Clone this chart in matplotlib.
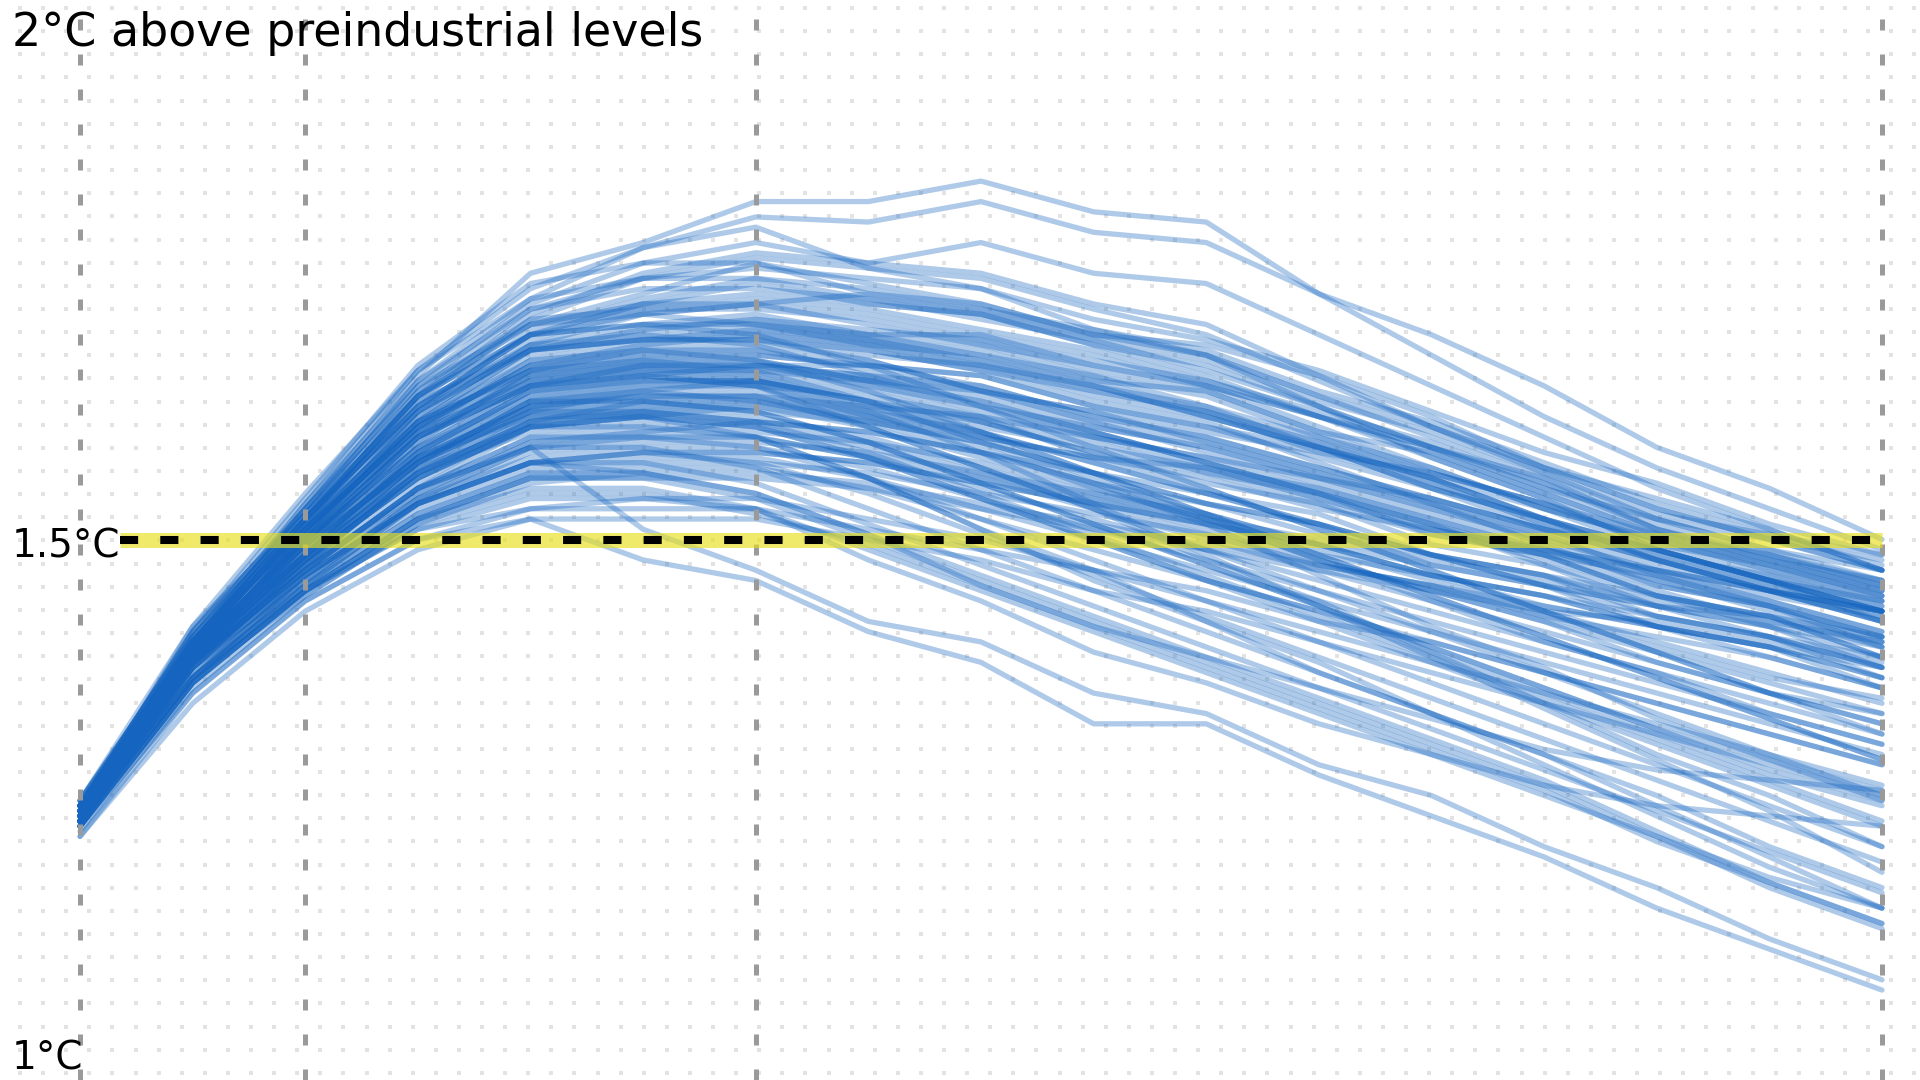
import numpy as np
import matplotlib
matplotlib.use("Agg")
import matplotlib.pyplot as plt

# sample years of every pathway (5-year steps)
years = [2020, 2025, 2030, 2035, 2040, 2045, 2050, 2055, 2060,
         2065, 2070, 2075, 2080, 2085, 2090, 2095, 2100]

# warming above preindustrial levels (°C), one row per scenario pathway
upper_paths = [
    [1.24, 1.40, 1.53, 1.66, 1.76, 1.79, 1.83, 1.83, 1.85, 1.82, 1.81, 1.74, 1.70, 1.65, 1.59, 1.55, 1.50],
    [1.245, 1.405, 1.525, 1.655, 1.735, 1.785, 1.815, 1.81, 1.83, 1.80, 1.79, 1.74, 1.68, 1.62, 1.57, 1.53, 1.49],
    [1.23, 1.39, 1.52, 1.64, 1.72, 1.76, 1.78, 1.77, 1.79, 1.76, 1.75, 1.70, 1.65, 1.60, 1.55, 1.51, 1.47],
    [1.235, 1.395, 1.535, 1.665, 1.745, 1.785, 1.805, 1.765, 1.745, 1.705, 1.68, 1.63, 1.58, 1.54, 1.49, 1.46, 1.42],
    [1.24, 1.41, 1.53, 1.65, 1.73, 1.77, 1.79, 1.77, 1.76, 1.73, 1.71, 1.66, 1.62, 1.57, 1.53, 1.50, 1.47],
    [1.225, 1.395, 1.515, 1.635, 1.715, 1.755, 1.775, 1.765, 1.755, 1.725, 1.70, 1.655, 1.61, 1.565, 1.52, 1.49, 1.46],
    [1.24, 1.40, 1.52, 1.64, 1.71, 1.74, 1.77, 1.75, 1.73, 1.70, 1.68, 1.64, 1.60, 1.56, 1.51, 1.48, 1.45],
    [1.235, 1.385, 1.505, 1.625, 1.705, 1.735, 1.755, 1.745, 1.725, 1.695, 1.665, 1.63, 1.59, 1.555, 1.51, 1.485, 1.46],
    [1.24, 1.40, 1.52, 1.63, 1.70, 1.73, 1.75, 1.73, 1.72, 1.69, 1.66, 1.62, 1.58, 1.54, 1.50, 1.47, 1.44],
    [1.235, 1.395, 1.515, 1.625, 1.695, 1.725, 1.735, 1.725, 1.705, 1.685, 1.655, 1.62, 1.585, 1.545, 1.505, 1.475, 1.455],
    [1.24, 1.40, 1.51, 1.62, 1.69, 1.72, 1.73, 1.72, 1.70, 1.67, 1.65, 1.61, 1.57, 1.53, 1.49, 1.46, 1.43],
    [1.225, 1.385, 1.505, 1.615, 1.685, 1.705, 1.715, 1.705, 1.695, 1.665, 1.645, 1.605, 1.565, 1.535, 1.495, 1.465, 1.435],
    [1.24, 1.41, 1.54, 1.67, 1.75, 1.77, 1.77, 1.74, 1.72, 1.69, 1.67, 1.63, 1.59, 1.55, 1.51, 1.48, 1.45],
    [1.245, 1.405, 1.535, 1.655, 1.725, 1.755, 1.765, 1.755, 1.745, 1.715, 1.695, 1.665, 1.625, 1.585, 1.555, 1.515, 1.485],
    [1.23, 1.40, 1.52, 1.63, 1.70, 1.73, 1.74, 1.73, 1.72, 1.70, 1.68, 1.64, 1.61, 1.57, 1.53, 1.50, 1.48],
    [1.235, 1.415, 1.545, 1.665, 1.735, 1.755, 1.755, 1.735, 1.725, 1.705, 1.685, 1.645, 1.615, 1.575, 1.535, 1.505, 1.475],
    [1.23, 1.40, 1.53, 1.65, 1.71, 1.72, 1.73, 1.74, 1.73, 1.70, 1.69, 1.66, 1.61, 1.57, 1.54, 1.51, 1.47],
    [1.245, 1.395, 1.515, 1.645, 1.715, 1.725, 1.725, 1.715, 1.695, 1.675, 1.655, 1.625, 1.595, 1.555, 1.515, 1.485, 1.455],
    [1.23, 1.40, 1.52, 1.63, 1.70, 1.71, 1.71, 1.70, 1.70, 1.68, 1.65, 1.62, 1.59, 1.56, 1.52, 1.50, 1.47],
    [1.245, 1.415, 1.525, 1.625, 1.685, 1.705, 1.715, 1.695, 1.675, 1.645, 1.625, 1.595, 1.565, 1.535, 1.505, 1.475, 1.445],
    [1.23, 1.40, 1.52, 1.64, 1.71, 1.73, 1.73, 1.71, 1.69, 1.67, 1.65, 1.62, 1.59, 1.55, 1.52, 1.49, 1.47],
    [1.235, 1.405, 1.525, 1.645, 1.725, 1.745, 1.745, 1.735, 1.715, 1.695, 1.675, 1.635, 1.605, 1.565, 1.525, 1.505, 1.485],
]

core_paths = [
    [1.24, 1.40, 1.51, 1.61, 1.68, 1.70, 1.71, 1.70, 1.69, 1.66, 1.64, 1.60, 1.56, 1.52, 1.49, 1.46, 1.43],
    [1.235, 1.385, 1.505, 1.605, 1.675, 1.695, 1.705, 1.695, 1.675, 1.655, 1.625, 1.595, 1.555, 1.515, 1.485, 1.455, 1.425],
    [1.24, 1.40, 1.51, 1.61, 1.67, 1.69, 1.70, 1.69, 1.67, 1.65, 1.62, 1.59, 1.56, 1.52, 1.49, 1.46, 1.44],
    [1.225, 1.395, 1.495, 1.595, 1.665, 1.685, 1.695, 1.685, 1.665, 1.635, 1.615, 1.575, 1.535, 1.505, 1.465, 1.435, 1.405],
    [1.24, 1.40, 1.50, 1.60, 1.66, 1.68, 1.69, 1.68, 1.67, 1.64, 1.62, 1.59, 1.55, 1.52, 1.48, 1.46, 1.43],
    [1.235, 1.385, 1.495, 1.605, 1.655, 1.675, 1.685, 1.675, 1.645, 1.625, 1.595, 1.565, 1.535, 1.495, 1.465, 1.435, 1.405],
    [1.24, 1.39, 1.50, 1.59, 1.65, 1.67, 1.68, 1.67, 1.66, 1.63, 1.61, 1.58, 1.55, 1.51, 1.48, 1.45, 1.42],
    [1.235, 1.395, 1.485, 1.585, 1.645, 1.665, 1.675, 1.655, 1.645, 1.615, 1.585, 1.555, 1.525, 1.495, 1.455, 1.435, 1.395],
    [1.24, 1.40, 1.50, 1.59, 1.65, 1.66, 1.67, 1.66, 1.65, 1.62, 1.60, 1.57, 1.54, 1.51, 1.48, 1.45, 1.43],
    [1.225, 1.385, 1.495, 1.575, 1.635, 1.655, 1.665, 1.655, 1.625, 1.605, 1.575, 1.545, 1.515, 1.485, 1.445, 1.425, 1.385],
    [1.24, 1.39, 1.49, 1.58, 1.64, 1.66, 1.67, 1.66, 1.64, 1.61, 1.59, 1.56, 1.53, 1.50, 1.47, 1.44, 1.41],
    [1.235, 1.385, 1.485, 1.575, 1.635, 1.645, 1.655, 1.645, 1.615, 1.595, 1.565, 1.545, 1.505, 1.485, 1.445, 1.425, 1.385],
    [1.24, 1.39, 1.49, 1.58, 1.63, 1.65, 1.66, 1.65, 1.63, 1.61, 1.59, 1.56, 1.53, 1.50, 1.47, 1.45, 1.42],
    [1.225, 1.395, 1.485, 1.565, 1.625, 1.645, 1.655, 1.635, 1.615, 1.585, 1.555, 1.535, 1.495, 1.475, 1.435, 1.415, 1.375],
    [1.24, 1.39, 1.48, 1.57, 1.63, 1.64, 1.65, 1.64, 1.62, 1.60, 1.58, 1.55, 1.52, 1.49, 1.46, 1.44, 1.41],
    [1.235, 1.375, 1.475, 1.565, 1.615, 1.635, 1.645, 1.625, 1.605, 1.575, 1.545, 1.525, 1.485, 1.465, 1.425, 1.405, 1.365],
    [1.23, 1.39, 1.48, 1.56, 1.62, 1.63, 1.64, 1.63, 1.61, 1.59, 1.57, 1.54, 1.51, 1.49, 1.46, 1.43, 1.40],
    [1.225, 1.385, 1.475, 1.555, 1.615, 1.625, 1.635, 1.615, 1.595, 1.565, 1.535, 1.515, 1.475, 1.455, 1.415, 1.395, 1.355],
    [1.24, 1.40, 1.51, 1.62, 1.69, 1.71, 1.72, 1.70, 1.68, 1.65, 1.63, 1.59, 1.56, 1.52, 1.48, 1.45, 1.42],
    [1.235, 1.395, 1.505, 1.615, 1.685, 1.695, 1.705, 1.695, 1.685, 1.655, 1.645, 1.605, 1.585, 1.545, 1.505, 1.485, 1.455],
    [1.24, 1.40, 1.51, 1.61, 1.67, 1.68, 1.68, 1.67, 1.65, 1.62, 1.60, 1.57, 1.54, 1.51, 1.48, 1.45, 1.43],
    [1.235, 1.385, 1.495, 1.585, 1.645, 1.655, 1.655, 1.635, 1.615, 1.585, 1.565, 1.535, 1.505, 1.485, 1.465, 1.445, 1.425],
    [1.22, 1.38, 1.48, 1.57, 1.62, 1.63, 1.63, 1.62, 1.60, 1.58, 1.56, 1.53, 1.51, 1.49, 1.47, 1.45, 1.43],
    [1.225, 1.375, 1.475, 1.565, 1.605, 1.615, 1.615, 1.605, 1.585, 1.555, 1.535, 1.505, 1.485, 1.465, 1.445, 1.425, 1.395],
    [1.23, 1.38, 1.47, 1.55, 1.59, 1.60, 1.60, 1.58, 1.56, 1.54, 1.52, 1.50, 1.48, 1.46, 1.44, 1.42, 1.40],
    [1.225, 1.365, 1.465, 1.535, 1.575, 1.585, 1.585, 1.575, 1.555, 1.535, 1.515, 1.495, 1.475, 1.455, 1.435, 1.425, 1.405],
    [1.22, 1.36, 1.45, 1.52, 1.56, 1.56, 1.56, 1.55, 1.53, 1.51, 1.49, 1.47, 1.45, 1.43, 1.42, 1.40, 1.38],
    [1.235, 1.395, 1.515, 1.625, 1.685, 1.695, 1.695, 1.685, 1.665, 1.645, 1.625, 1.585, 1.565, 1.535, 1.495, 1.475, 1.445],
    [1.24, 1.40, 1.51, 1.61, 1.67, 1.69, 1.70, 1.69, 1.68, 1.66, 1.63, 1.60, 1.57, 1.53, 1.50, 1.48, 1.46],
    [1.235, 1.385, 1.505, 1.605, 1.665, 1.685, 1.685, 1.665, 1.645, 1.625, 1.605, 1.585, 1.555, 1.515, 1.485, 1.465, 1.445],
    [1.24, 1.40, 1.51, 1.60, 1.65, 1.67, 1.67, 1.67, 1.66, 1.63, 1.61, 1.59, 1.56, 1.53, 1.50, 1.47, 1.45],
    [1.235, 1.395, 1.495, 1.595, 1.655, 1.665, 1.665, 1.655, 1.635, 1.605, 1.575, 1.545, 1.515, 1.475, 1.445, 1.415, 1.395],
    [1.24, 1.39, 1.50, 1.59, 1.64, 1.65, 1.65, 1.63, 1.62, 1.60, 1.58, 1.56, 1.54, 1.51, 1.49, 1.46, 1.44],
    [1.225, 1.385, 1.485, 1.575, 1.635, 1.645, 1.635, 1.625, 1.605, 1.575, 1.545, 1.515, 1.485, 1.465, 1.435, 1.415, 1.385],
    [1.24, 1.40, 1.50, 1.58, 1.63, 1.64, 1.64, 1.62, 1.60, 1.58, 1.57, 1.55, 1.52, 1.49, 1.47, 1.45, 1.43],
    [1.235, 1.385, 1.485, 1.575, 1.625, 1.635, 1.635, 1.615, 1.585, 1.555, 1.525, 1.495, 1.465, 1.445, 1.415, 1.395, 1.375],
    [1.24, 1.40, 1.52, 1.63, 1.69, 1.70, 1.69, 1.66, 1.63, 1.60, 1.57, 1.54, 1.51, 1.48, 1.45, 1.42, 1.40],
    [1.225, 1.395, 1.515, 1.615, 1.665, 1.675, 1.675, 1.655, 1.635, 1.605, 1.575, 1.545, 1.515, 1.485, 1.455, 1.435, 1.405],
    [1.24, 1.41, 1.53, 1.64, 1.70, 1.72, 1.71, 1.69, 1.67, 1.65, 1.62, 1.59, 1.55, 1.52, 1.49, 1.46, 1.43],
    [1.245, 1.405, 1.525, 1.635, 1.685, 1.695, 1.695, 1.675, 1.645, 1.615, 1.595, 1.565, 1.535, 1.505, 1.475, 1.455, 1.435],
]

middle_paths = [
    [1.23, 1.38, 1.48, 1.56, 1.61, 1.62, 1.63, 1.61, 1.58, 1.55, 1.52, 1.49, 1.46, 1.43, 1.40, 1.37, 1.34],
    [1.235, 1.385, 1.485, 1.565, 1.615, 1.625, 1.625, 1.615, 1.595, 1.565, 1.545, 1.515, 1.485, 1.455, 1.425, 1.405, 1.375],
    [1.23, 1.38, 1.47, 1.55, 1.61, 1.62, 1.62, 1.60, 1.57, 1.54, 1.51, 1.48, 1.45, 1.42, 1.39, 1.36, 1.33],
    [1.225, 1.385, 1.475, 1.545, 1.595, 1.605, 1.615, 1.605, 1.585, 1.565, 1.535, 1.515, 1.485, 1.455, 1.435, 1.405, 1.385],
    [1.23, 1.38, 1.47, 1.55, 1.60, 1.61, 1.61, 1.59, 1.56, 1.53, 1.50, 1.47, 1.44, 1.41, 1.38, 1.35, 1.32],
    [1.225, 1.365, 1.465, 1.545, 1.595, 1.605, 1.605, 1.595, 1.575, 1.545, 1.525, 1.495, 1.465, 1.445, 1.415, 1.395, 1.365],
    [1.23, 1.38, 1.47, 1.54, 1.59, 1.60, 1.60, 1.58, 1.55, 1.52, 1.49, 1.46, 1.43, 1.40, 1.37, 1.34, 1.31],
    [1.225, 1.375, 1.465, 1.535, 1.585, 1.595, 1.595, 1.585, 1.565, 1.545, 1.515, 1.495, 1.465, 1.435, 1.415, 1.385, 1.355],
    [1.23, 1.38, 1.46, 1.54, 1.58, 1.59, 1.59, 1.57, 1.54, 1.51, 1.48, 1.45, 1.42, 1.39, 1.36, 1.33, 1.30],
    [1.225, 1.375, 1.455, 1.535, 1.575, 1.585, 1.585, 1.575, 1.555, 1.535, 1.515, 1.485, 1.465, 1.445, 1.425, 1.405, 1.375],
    [1.23, 1.37, 1.46, 1.53, 1.57, 1.58, 1.58, 1.56, 1.53, 1.50, 1.47, 1.44, 1.41, 1.38, 1.35, 1.32, 1.29],
    [1.225, 1.365, 1.455, 1.525, 1.565, 1.575, 1.575, 1.565, 1.545, 1.525, 1.505, 1.475, 1.455, 1.435, 1.415, 1.395, 1.365],
    [1.22, 1.37, 1.45, 1.52, 1.56, 1.57, 1.57, 1.55, 1.52, 1.49, 1.46, 1.43, 1.40, 1.37, 1.34, 1.31, 1.28],
    [1.225, 1.365, 1.445, 1.515, 1.555, 1.565, 1.565, 1.555, 1.535, 1.515, 1.495, 1.475, 1.455, 1.425, 1.405, 1.385, 1.355],
    [1.23, 1.39, 1.50, 1.60, 1.65, 1.66, 1.65, 1.62, 1.59, 1.55, 1.52, 1.48, 1.45, 1.42, 1.38, 1.35, 1.33],
    [1.235, 1.385, 1.485, 1.575, 1.625, 1.625, 1.615, 1.595, 1.565, 1.535, 1.505, 1.475, 1.455, 1.425, 1.395, 1.365, 1.345],
]

lower_paths = [
    [1.24, 1.39, 1.49, 1.58, 1.63, 1.64, 1.64, 1.61, 1.57, 1.53, 1.49, 1.45, 1.41, 1.37, 1.33, 1.29, 1.25],
    [1.225, 1.375, 1.475, 1.565, 1.615, 1.625, 1.615, 1.585, 1.545, 1.505, 1.465, 1.425, 1.385, 1.345, 1.305, 1.265, 1.225],
    [1.23, 1.38, 1.48, 1.56, 1.61, 1.62, 1.61, 1.58, 1.54, 1.50, 1.46, 1.42, 1.38, 1.34, 1.30, 1.26, 1.22],
    [1.235, 1.395, 1.495, 1.575, 1.625, 1.635, 1.625, 1.595, 1.555, 1.515, 1.475, 1.435, 1.395, 1.355, 1.315, 1.275, 1.245],
    [1.23, 1.38, 1.47, 1.55, 1.60, 1.60, 1.59, 1.56, 1.52, 1.48, 1.44, 1.40, 1.36, 1.32, 1.28, 1.24, 1.20],
    [1.225, 1.375, 1.465, 1.535, 1.575, 1.585, 1.575, 1.545, 1.505, 1.465, 1.425, 1.385, 1.345, 1.305, 1.265, 1.225, 1.185],
    [1.23, 1.38, 1.47, 1.55, 1.59, 1.59, 1.57, 1.53, 1.49, 1.45, 1.41, 1.37, 1.33, 1.29, 1.25, 1.20, 1.16],
    [1.225, 1.365, 1.455, 1.535, 1.575, 1.575, 1.555, 1.515, 1.475, 1.435, 1.395, 1.355, 1.315, 1.275, 1.235, 1.195, 1.155],
    [1.23, 1.38, 1.48, 1.56, 1.61, 1.61, 1.60, 1.56, 1.51, 1.46, 1.42, 1.37, 1.33, 1.29, 1.24, 1.19, 1.14],
    [1.225, 1.365, 1.455, 1.525, 1.565, 1.565, 1.545, 1.505, 1.465, 1.425, 1.385, 1.345, 1.305, 1.265, 1.215, 1.165, 1.125],
    [1.22, 1.36, 1.45, 1.52, 1.56, 1.56, 1.54, 1.50, 1.46, 1.42, 1.38, 1.34, 1.30, 1.26, 1.21, 1.16, 1.12],
    [1.225, 1.375, 1.465, 1.535, 1.575, 1.565, 1.545, 1.505, 1.455, 1.415, 1.375, 1.335, 1.295, 1.255, 1.205, 1.165, 1.125],
    [1.22, 1.36, 1.45, 1.52, 1.55, 1.55, 1.53, 1.49, 1.45, 1.41, 1.37, 1.33, 1.29, 1.26, 1.24, 1.23, 1.22],
    [1.215, 1.355, 1.445, 1.515, 1.545, 1.545, 1.525, 1.495, 1.455, 1.415, 1.385, 1.355, 1.325, 1.295, 1.275, 1.265, 1.255],
    [1.23, 1.39, 1.50, 1.60, 1.66, 1.67, 1.67, 1.65, 1.62, 1.58, 1.55, 1.51, 1.47, 1.43, 1.39, 1.35, 1.31],
    [1.225, 1.385, 1.485, 1.585, 1.645, 1.655, 1.655, 1.635, 1.605, 1.565, 1.525, 1.485, 1.445, 1.405, 1.365, 1.325, 1.285],
    [1.24, 1.40, 1.52, 1.64, 1.70, 1.71, 1.70, 1.67, 1.63, 1.59, 1.55, 1.51, 1.47, 1.43, 1.39, 1.35, 1.32],
    [1.235, 1.385, 1.505, 1.615, 1.675, 1.685, 1.675, 1.645, 1.605, 1.565, 1.525, 1.485, 1.445, 1.405, 1.365, 1.325, 1.285],
    [1.24, 1.40, 1.51, 1.61, 1.66, 1.67, 1.66, 1.63, 1.60, 1.56, 1.52, 1.48, 1.44, 1.40, 1.37, 1.33, 1.30],
    [1.225, 1.385, 1.495, 1.585, 1.635, 1.635, 1.625, 1.595, 1.555, 1.515, 1.475, 1.435, 1.395, 1.355, 1.315, 1.285, 1.255],
    [1.23, 1.38, 1.48, 1.57, 1.61, 1.62, 1.61, 1.58, 1.54, 1.50, 1.46, 1.43, 1.39, 1.35, 1.31, 1.27, 1.24],
    [1.235, 1.395, 1.515, 1.615, 1.665, 1.675, 1.665, 1.635, 1.595, 1.555, 1.515, 1.465, 1.415, 1.375, 1.325, 1.285, 1.245],
    [1.23, 1.39, 1.50, 1.60, 1.65, 1.66, 1.65, 1.61, 1.57, 1.53, 1.48, 1.44, 1.39, 1.34, 1.29, 1.25, 1.20],
    [1.235, 1.385, 1.505, 1.605, 1.655, 1.665, 1.655, 1.625, 1.585, 1.535, 1.485, 1.435, 1.385, 1.335, 1.285, 1.235, 1.175],
    [1.22, 1.38, 1.49, 1.58, 1.62, 1.62, 1.60, 1.56, 1.51, 1.47, 1.42, 1.38, 1.33, 1.28, 1.23, 1.18, 1.14],
]

bottom_paths = [
    [1.22, 1.36, 1.46, 1.54, 1.59, 1.51, 1.47, 1.42, 1.40, 1.35, 1.33, 1.28, 1.25, 1.20, 1.16, 1.11, 1.07],
    [1.21, 1.34, 1.43, 1.49, 1.52, 1.48, 1.46, 1.41, 1.38, 1.32, 1.32, 1.27, 1.23, 1.19, 1.14, 1.10, 1.06],
    [1.22, 1.36, 1.45, 1.51, 1.54, 1.54, 1.53, 1.48, 1.44, 1.39, 1.36, 1.32, 1.29, 1.25, 1.21, 1.17, 1.14],
    [1.22, 1.36, 1.45, 1.51, 1.53, 1.53, 1.53, 1.51, 1.49, 1.47, 1.44, 1.41, 1.38, 1.35, 1.32, 1.29, 1.26],
    [1.22, 1.35, 1.44, 1.50, 1.52, 1.52, 1.52, 1.50, 1.48, 1.45, 1.43, 1.40, 1.37, 1.34, 1.31, 1.28, 1.25],
    [1.21, 1.35, 1.44, 1.50, 1.53, 1.54, 1.54, 1.52, 1.50, 1.47, 1.45, 1.42, 1.40, 1.37, 1.34, 1.31, 1.28],
]

milestones = [2020, 2030, 2050, 2100]
threshold = 1.5
label_values = [2.0, 1.5, 1.0]
label_texts = ["2°C above preindustrial levels", "1.5°C", "1°C"]
label_sizes = [33, 28, 28]

BLUE = "#1565c0"

fig = plt.figure(figsize=(19.2, 10.8), dpi=100)

# dotted paper background in pixel units
bg = fig.add_axes([0, 0, 1, 1])
bg.set_xlim(0, 1920)
bg.set_ylim(1080, 0)
bg.axis("off")
gx, gy = np.meshgrid(np.arange(20, 1920, 23.1), np.arange(8, 1080, 23.15))
bg.scatter(gx.ravel(), gy.ravel(), s=8, marker="s", color="#e3e3e3", linewidths=0)

ax = fig.add_axes([0, 0, 1, 1])
ax.patch.set_visible(False)
ax.axis("off")
px_year = 1802 / 80
ax.set_xlim(years[0] - 80 / px_year, years[-1] + 38 / px_year)
ax.set_ylim(1 - 28.5 / 1024, 2 + 27.5 / 1024)

for group in (upper_paths, core_paths, middle_paths, lower_paths, bottom_paths):
    for row in group:
        ax.plot(years, row, color=BLUE, alpha=0.34, lw=3.8,
                solid_joinstyle="round", solid_capstyle="round", zorder=2)

for yr in milestones:
    ax.axvline(yr, color="#9a9a9a", lw=3.6, linestyle=(0, (2.2, 4.8)), zorder=3)

labels = []
for val, txt, size in zip(label_values, label_texts, label_sizes):
    t = ax.annotate(txt, xy=(0.006, val), xycoords=("axes fraction", "data"),
                    xytext=(0, -13), textcoords="offset points",
                    fontsize=size, va="baseline", ha="left", color="black", zorder=6)
    labels.append(t)

# the 1.5°C line starts right after its label
fig.canvas.draw()
bb = labels[1].get_window_extent()
x_start = ax.transData.inverted().transform((bb.x1, 0))[0]
ax.plot([x_start, years[-1]], [threshold, threshold], color="#e8df1c", alpha=0.65,
        lw=10.8, solid_capstyle="butt", zorder=4)
ax.plot([x_start, years[-1]], [threshold, threshold], color="black", lw=5.8,
        linestyle=(0, (2.25, 2.75)), zorder=5)

fig.savefig("out.png", dpi=100)
